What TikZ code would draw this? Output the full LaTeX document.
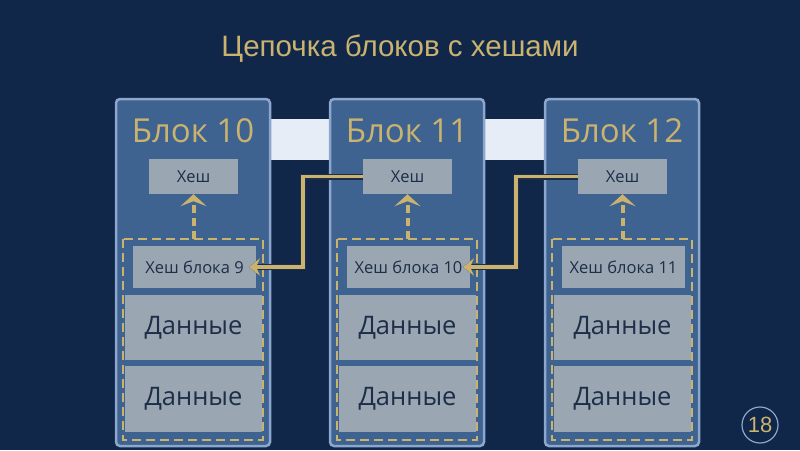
\documentclass[tikz,border=0pt]{standalone}
\usepackage{fontspec}
\setmainfont{Open Sans}
\newfontfamily\titlefont{Liberation Sans}
\usetikzlibrary{arrows.meta}

\definecolor{navy}{HTML}{10274A}
\definecolor{blockfill}{HTML}{3E6391}
\definecolor{blockline}{HTML}{8CA6CC}
\definecolor{hashgray}{HTML}{9AA7B3}
\definecolor{gold}{HTML}{CAB26F}
\definecolor{inktext}{HTML}{1E2D48}
\definecolor{bandwhite}{HTML}{E6EDF6}

\tikzset{
  graybox/.style={fill=hashgray, inner sep=0pt, text=inktext},
  goldtitle/.style={text=gold, font=\fontsize{33}{36}\selectfont},
  hashlink/.style={gold, line width=3.5pt, line join=miter, shorten >=-7pt,
    preaction={draw=inktext, line width=6pt},
    -{Stealth[length=11pt, width=18pt, inset=4pt]}},
  uplink/.style={gold, line width=4pt, dash pattern=on 8pt off 5pt,
    -{Stealth[length=12pt, width=26pt, inset=5pt]}}
}

\begin{document}
\begin{tikzpicture}[x=1pt, y=-1pt]
  \fill[navy] (0,0) rectangle (800,450);
  \useasboundingbox (0,0) rectangle (800,450);
  \node[text=gold, font=\titlefont\fontsize{29.5}{32}\selectfont] (title) at (400,49) {Цепочка блоков с хешами};

  % band behind the blocks
  \fill[bandwhite] (270,119) rectangle (545,160);

  \foreach \x/\n/\p in {116/10/9, 330/11/10, 545/12/11} {
    \draw[blockline, line width=2.5pt, fill=blockfill, rounded corners=4pt] (\x,99) rectangle ++(154,347);
    \node[goldtitle] (b\n) at (\x+77,131) {Блок \n};
    \node[graybox, minimum width=89pt, minimum height=35pt, font=\fontsize{16.5}{18}\selectfont] (h\n) at (\x+77.5,176.5) {Хеш};
    \draw[gold, line width=2.5pt, dash pattern=on 9pt off 5pt] (\x+7,239) rectangle (\x+147,440);
    \node[graybox, minimum width=123pt, minimum height=42pt, font=\fontsize{16.5}{18}\selectfont] (hp\n) at (\x+78.5,267) {Хеш блока \p};
    \node[graybox, minimum width=137pt, minimum height=65pt, font=\fontsize{25.5}{28}\selectfont] (d\n) at (\x+77.5,327.5) {Данные};
    \node[graybox, minimum width=137pt, minimum height=66pt, font=\fontsize{25.5}{28}\selectfont] (e\n) at (\x+77.5,399) {Данные};
    \coordinate (up\n) at (\x+77.5,239);
    \draw[uplink] (up\n) -- (h\n.south);
  }

  \draw[hashlink] (h11.west) -- ++(-60,0) |- (hp10.east);
  \draw[hashlink] (h12.west) -- ++(-62,0) |- (hp11.east);

  \node[circle, draw=blockline, line width=1.2pt, minimum size=36pt, inner sep=0pt,
    text=gold, font=\titlefont\fontsize{22}{24}\selectfont] (page) at (760,425) {18};
\end{tikzpicture}
\end{document}
